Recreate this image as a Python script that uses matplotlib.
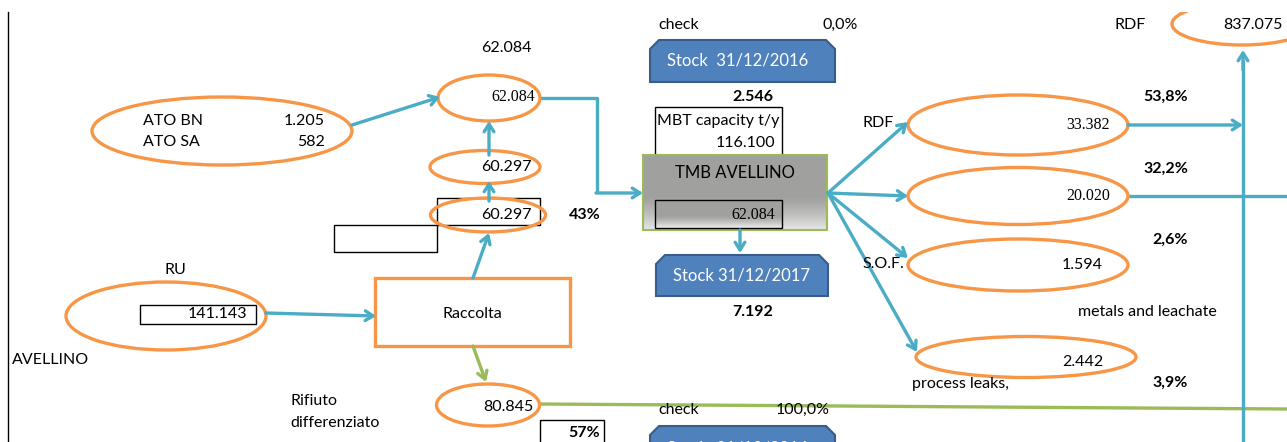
import numpy as np
import matplotlib
matplotlib.use("Agg")
import matplotlib.pyplot as plt
from matplotlib.patches import Ellipse, Rectangle, Polygon

# valori del diagramma (t/anno)
ato_labels = ["ATO BN", "ATO SA"]
ato_values = ["1.205", "582"]
ru_value = "141.143"
collected_values = ["62.084", "60.297", "60.297"]
rd_value = "80.845"
share_ru = "43%"
share_rd = "57%"
mbt_capacity = "116.100"
mbt_input = "62.084"
stock_2016 = "2.546"
stock_2017 = "7.192"
out_labels = ["RDF", "", "S.O.F.", "process leaks,"]
out_values = ["33.382", "20.020", "1.594", "2.442"]
out_shares = ["53,8%", "32,2%", "2,6%", "3,9%"]
rdf_total = "837.075"
checks = ["0,0%", "100,0%"]

ORANGE = "#F79646"
BLUE = "#4BACC6"
GREEN = "#9BBB59"
STOCK = "#4F81BD"
STOCK_EDGE = "#385D8A"
SANS = "Lato"
SERIF = "Liberation Serif"
FS = 11.5

fig = plt.figure(figsize=(12.87, 4.42), dpi=100)
ax = fig.add_axes([0, 0, 1, 1])
ax.set_xlim(0, 1287)
ax.set_ylim(442, 0)
ax.axis("off")


def ell(cx, cy, w, h):
    e = Ellipse((cx, cy), w, h, fill=False, ec=ORANGE, lw=2.4, zorder=3)
    ax.add_patch(e)
    return e


def arrow(x0, y0, x1, y1, color=BLUE):
    ax.annotate("", xy=(x1, y1), xytext=(x0, y0),
                arrowprops=dict(arrowstyle="->,head_length=0.55,head_width=0.35",
                                color=color, lw=2.4, shrinkA=0, shrinkB=0), zorder=4)


def line(xs, ys, color=BLUE):
    ax.plot(xs, ys, color=color, lw=2.4, solid_capstyle="butt", zorder=2)


def txt(x, y, s, ha="left", bold=False, serif=False, size=FS, color="black"):
    ax.text(x, y, s, ha=ha, va="center", fontsize=size, color=color,
            fontweight="bold" if bold else "normal",
            family=SERIF if serif else SANS, zorder=6)


def box(x0, y0, x1, y1, ec="black", lw=1.0, fc="none", z=3):
    ax.add_patch(Rectangle((x0, y0), x1 - x0, y1 - y0, fill=fc != "none",
                           fc=fc, ec=ec, lw=lw, zorder=z))


def stock_box(x0, y0, x1, y1, label):
    c = 9
    pts = [(x0, y1), (x0, y0 + c), (x0 + c, y0), (x1 - c, y0), (x1, y0 + c), (x1, y1)]
    ax.add_patch(Polygon(pts, closed=True, fc=STOCK, ec=STOCK_EDGE, lw=1.5, zorder=3))
    txt(x0 + 17, (y0 + y1) / 2, label, color="white", size=12)


def grad_box(x0, y0, x1, y1, top, bottom, ec, lw, z):
    g = np.linspace(0, 1, 100)[:, None]
    t = np.array(matplotlib.colors.to_rgb(top))
    b = np.array(matplotlib.colors.to_rgb(bottom))
    k = np.clip((g - 0.55) / 0.45, 0, 1) ** 1.3
    img = (t + (b - t) * k[..., None]) * np.ones((100, 2, 3))
    ax.imshow(img, extent=(x0, x1, y1, y0), aspect="auto", zorder=z, interpolation="bilinear")
    box(x0, y0, x1, y1, ec=ec, lw=lw, z=z + 0.1)


# linea verticale a sinistra
ax.plot([8, 8], [12, 442], color="black", lw=1.0)

# ATO
ell(222, 131, 260, 68)
for i, (lab, val) in enumerate(zip(ato_labels, ato_values)):
    txt(143, 121 + 21 * i, lab)
    txt(325, 121 + 21 * i, val, ha="right")
arrow(352, 125, 440, 97)

# colonna raccolta
txt(506, 48, collected_values[0], ha="center")
ell(489, 98, 102, 46)
txt(535, 97, collected_values[0], ha="right", serif=True, size=11.5)
arrow(489, 155, 489, 121)
ell(485, 167, 110, 33)
txt(532, 167, collected_values[1], ha="right")
arrow(489, 201, 489, 181)
box(437, 198, 540, 225)
box(334, 225, 437, 252)
ell(488, 215, 115, 34)
txt(532, 215, collected_values[2], ha="right")
txt(585, 215, share_ru, ha="center", bold=True)
arrow(473, 278, 489, 233)

# Raccolta
box(375, 278, 570, 346, ec=ORANGE, lw=2.4)
txt(472, 314, "Raccolta", ha="center")

# RU
txt(175, 270, "RU", ha="center")
ell(166, 316, 200, 68)
box(140, 305, 256, 324)
txt(247, 314, ru_value, ha="right")
arrow(266, 313, 376, 316)
txt(12, 360, "AVELLINO")

# differenziata
arrow(473, 346, 486, 382, color=GREEN)
ell(488, 405, 103, 42)
txt(533, 407, rd_value, ha="right")
line([540, 1287], [404, 409], color=GREEN)
txt(290, 401, "Rifiuto")
txt(290, 423, "differenziato")
box(540, 420, 604, 444)
txt(600, 433, share_rd, ha="right", bold=True)

# check e stock
txt(658, 25, "check")
txt(858, 25, checks[0], ha="right")
stock_box(650, 40, 835, 82, "Stock  31/12/2016")
txt(773, 97, stock_2016, ha="right", bold=True)
box(655, 107, 782, 155)
txt(657, 121, "MBT capacity t/y")
txt(775, 143, mbt_capacity, ha="right")

# TMB
line([540, 597, 597], [98, 98, 193])
arrow(596, 193, 643, 193)
grad_box(643, 155, 827, 230, "#a0a19e", "#e6e6e6", "#9BBB59", 1.5, 3)
txt(735, 173, "TMB AVELLINO", ha="center", size=12)
grad_box(655, 200, 782, 228, "#a0a19e", "#eeeeee", "black", 1.0, 3.5)
txt(775, 215, mbt_input, ha="right", serif=True, size=11.5)
arrow(740, 230, 740, 253)
stock_box(656, 255, 828, 296, "Stock 31/12/2017")
txt(753, 312, stock_2017, ha="center", bold=True)
txt(658, 410, "check")
txt(830, 410, checks[1], ha="right")
stock_box(650, 426, 835, 470, "Stock  31/12/2016")

# uscite TMB
out_cy = [125, 196, 265, 357]
out_cx = [1018, 1018, 1018, 1026]
out_h = [60, 57, 52, 41]
out_tip = [(908, 122), (908, 196), (908, 258), (917, 352)]
lab_pos = [(878, 123), None, (862, 264), (912, 384)]
share_y = [97, 169, 240, 383]
for i in range(4):
    arrow(828, 193, out_tip[i][0], out_tip[i][1])
    ell(out_cx[i], out_cy[i], 220, out_h[i])
    serif = i < 2
    txt(1110 if serif else 1103, out_cy[i] + (5 if i == 3 else 0), out_values[i],
        ha="right", serif=serif, size=11.5)
    if lab_pos[i] is not None:
        txt(lab_pos[i][0], lab_pos[i][1], out_labels[i],
            ha="center" if i == 0 else "left")
    txt(1188, share_y[i], out_shares[i], ha="right", bold=True)
txt(1078, 312, "metals and leachate")
arrow(1128, 125, 1243, 125)
line([1128, 1287], [196, 196])

# RDF totale
line([1243, 1243], [442, 60])
arrow(1243, 70, 1243, 50)
txt(1130, 25, "RDF", ha="center")
top = ell(1242, 24, 140, 42)
top.set_clip_path(Rectangle((0, 12), 1287, 430, transform=ax.transData))
txt(1283, 25, rdf_total, ha="right")

fig.savefig("out.png", dpi=100)
